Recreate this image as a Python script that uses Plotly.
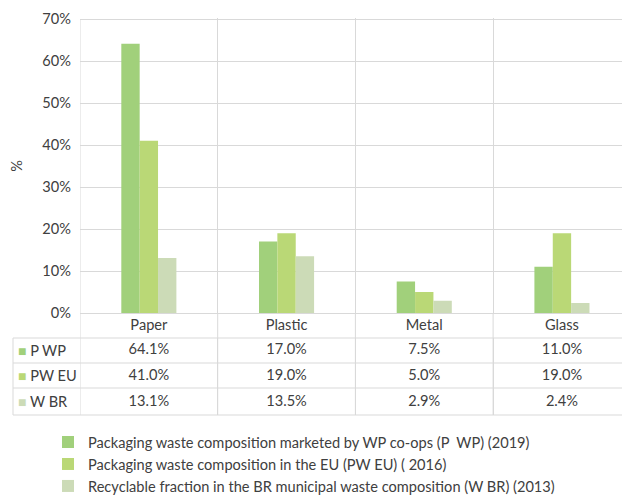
import plotly.graph_objects as go

# data
categories = ["Paper", "Plastic", "Metal", "Glass"]
series_short = ["P WP", "PW EU", "W BR"]
series_long = [
    "Packaging waste composition marketed by WP co-ops (P  WP) (2019)",
    "Packaging waste composition in the EU (PW EU) ( 2016)",
    "Recyclable fraction in the BR municipal waste composition (W BR) (2013)",
]
p_wp = [64.1, 17.0, 7.5, 11.0]
pw_eu = [41.0, 19.0, 5.0, 19.0]
w_br = [13.1, 13.5, 2.9, 2.4]
y_ticks = [0, 10, 20, 30, 40, 50, 60, 70]

colors = ["#a1d07b", "#bad876", "#ccdbb7"]
grid = "#d9d9d9"
text_col = "#404040"
FONT = "Lato, 'Open Sans', sans-serif"
FS = 14.6

W, H = 622, 495
L, R, T, B = 80, 0, 17, 80
plot_h = H - T - B  # bars + table
table_rows_px = [313, 338, 363, 388, 415]  # horizontal table lines (px from top)
top_px = 19
pad = 0.3  # y-range padding so the 0% and 70% gridlines are kept


def py(px):
    return (H - B - px) / plot_h


def pxx(px):
    return (px - L) / (W - L - R)


px_per_unit = (table_rows_px[0] - top_px) / (y_ticks[-1] - y_ticks[0])

values = [p_wp, pw_eu, w_br]

fig = go.Figure()
for name, vals, c in zip(series_long, values, colors):
    fig.add_trace(
        go.Bar(x=categories, y=vals, name=name, marker=dict(color=c, line=dict(width=0)))
    )

# table values, drawn on a second y axis below the bars
tx, ty, tt = [], [], []
for short, vals in zip(series_short, values):
    for cat, v in zip(categories, vals):
        tx.append(cat)
        ty.append(short)
        tt.append(f"{v:.1f}%")
fig.add_trace(
    go.Scatter(
        x=tx, y=ty, text=tt, mode="text", yaxis="y2", showlegend=False,
        textfont=dict(family=FONT, size=FS, color=text_col), cliponaxis=False,
        hoverinfo="skip",
    )
)

shapes = []
# horizontal table lines
for yp in table_rows_px[1:]:
    shapes.append(dict(type="line", xref="paper", yref="paper", x0=pxx(13), x1=1,
                       y0=py(yp), y1=py(yp), line=dict(color=grid, width=1)))
# left border of the table rows
shapes.append(dict(type="line", xref="paper", yref="paper", x0=pxx(13), x1=pxx(13),
                   y0=py(table_rows_px[1]), y1=0, line=dict(color=grid, width=1)))
# vertical category boundaries through the table (left one through the chart too)
for b in [-0.5, 0.5, 1.5, 2.5]:
    shapes.append(dict(type="line", xref="x", yref="paper", x0=b, x1=b,
                       y0=0, y1=py(top_px) if b < 0 else py(table_rows_px[0]),
                       line=dict(color=grid, width=1)))

annotations = []
for short, c, yc in zip(series_short, colors,
                        [(a + b) / 2 for a, b in zip(table_rows_px[1:], table_rows_px[2:])]):
    annotations.append(dict(
        xref="paper", yref="paper", x=pxx(16), y=py(yc), xanchor="left", yanchor="middle",
        showarrow=False, align="left",
        text=f"<span style='color:{c};font-size:14px'>■</span> {short}",
        font=dict(family=FONT, size=FS, color=text_col),
    ))

fig.update_layout(
    width=W, height=H,
    margin=dict(l=L, r=R, t=T, b=B, autoexpand=False),
    paper_bgcolor="white", plot_bgcolor="white",
    font=dict(family=FONT, size=FS, color=text_col),
    barmode="group", bargap=0.6, bargroupgap=0,
    showlegend=True,
    legend=dict(
        x=pxx(48), y=py(426), xanchor="left", yanchor="top",
        font=dict(family=FONT, size=FS, color=text_col),
        itemwidth=30, bgcolor="rgba(0,0,0,0)",
    ),
    xaxis=dict(
        range=[-0.5, -0.5 + (W - L - R) / 137.7], tickson="boundaries",
        showgrid=True, gridcolor=grid, gridwidth=1, ticks="", showline=False,
        zeroline=False, anchor="y", tickfont=dict(size=FS),
    ),
    yaxis=dict(
        domain=[py(table_rows_px[0] + pad * px_per_unit), py(top_px - pad * px_per_unit)],
        range=[y_ticks[0] - pad, y_ticks[-1] + pad],
        tickmode="array", tickvals=y_ticks, ticktext=[f"{v}%" for v in y_ticks],
        showgrid=True, gridcolor=grid, gridwidth=1, zeroline=False,
        showline=False, ticks="", ticklabelstandoff=8,
        title=dict(text="%", standoff=16, font=dict(size=FS)),
        tickfont=dict(size=FS),
    ),
    yaxis2=dict(
        domain=[0, py(table_rows_px[1])], type="category",
        categoryorder="array", categoryarray=series_short[::-1],
        range=[-0.5, 2.5], showgrid=False, showticklabels=False, zeroline=False,
        anchor="x",
    ),
    shapes=shapes,
    annotations=annotations,
)

fig.write_html(
    "out.html",
    config={"displayModeBar": False},
    post_script="document.body.style.margin='0';",
)
